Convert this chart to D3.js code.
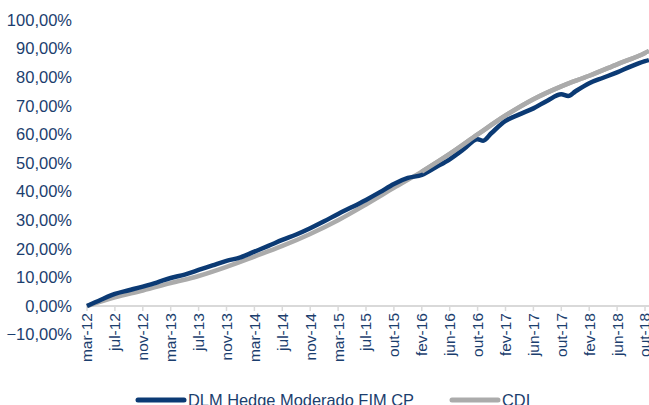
<!DOCTYPE html>
<html>
<head>
<meta charset="utf-8">
<script src="https://cdn.jsdelivr.net/npm/d3@7"></script>
<style>
  html,body{margin:0;padding:0;background:#fff;overflow:hidden;}
  svg{display:block;font-family:"Liberation Sans",Arial,sans-serif;}
  .ylab{font-size:16.5px;fill:#1B3E6E;}
  .xlab{font-size:15.5px;fill:#1B3E6E;}
  .leg{font-size:16.4px;fill:#1B3E6E;}
</style>
</head>
<body>
<div id="chart"></div>
<script>
/* Cumulative return: DLM Hedge Moderado FIM CP vs CDI, mar-12 .. out-18 */
var tickLabels=["mar-12","jul-12","nov-12","mar-13","jul-13","nov-13","mar-14","jul-14","nov-14","mar-15",
    "jul-15","out-15","fev-16","jun-16","out-16","fev-17","jun-17","out-17","fev-18","jun-18","out-18"];
var yTicks=[-10,0,10,20,30,40,50,60,70,80,90,100];

// position = index along the tick labels (0 = mar-12), value in %
var fundPos=[0,0.5,1,1.5,2,2.5,3,3.5,4,4.5,5,5.5,6,6.5,7,7.5,8,8.5,9,9.5,10,10.5,11,11.5,12,12.5,13,13.5,
    14,14.2,14.5,15,15.5,16,16.5,17,17.25,17.5,18,18.5,19,19.5,20,20.14];
var fundVal=[0,2.2,4.2,5.5,6.8,8.2,9.8,11.0,12.6,14.2,15.8,17.0,19.0,21.0,23.1,25.0,27.2,29.6,32.2,34.6,
    37.1,39.8,42.7,44.8,45.8,48.5,51.3,54.8,58.3,57.8,60.5,64.7,67.0,69.1,71.8,74.0,73.4,75.0,77.9,79.8,
    81.7,83.8,85.6,86.0];
var cdiPos=[0,1,2,3,4,5,6,7,8,9,10,11,12,13,14,15,16,17,18,19,20,20.14];
var cdiVal=[0,3.0,5.4,8.0,10.5,13.7,17.3,21.0,25.2,30.0,35.5,41.3,47.0,53.2,60.0,66.6,72.3,76.8,80.5,84.5,88.5,89.2];

var seriesNames=["DLM Hedge Moderado FIM CP","CDI"];
var seriesColors=["#0B3A74","#ABABAB"];

var W=649,H=405;
var svg=d3.select("#chart").append("svg").attr("width",W).attr("height",H);

var x=d3.scaleLinear().domain([0,20]).range([87,645]);
var y=d3.scaleLinear().domain([0,100]).range([306,20]);

// y labels
svg.append("g").selectAll("text").data(yTicks).enter().append("text").attr("class","ylab")
    .attr("x",72).attr("y",function(d){return y(d);}).attr("dy","0.35em").attr("text-anchor","end")
    .text(function(d){return d3.format(".2f")(d).replace(".",",")+"%";});

// x axis at 0%
var xa=svg.append("g").attr("transform","translate(0,"+y(0)+")");
xa.append("line").attr("x1",x(0)-1).attr("x2",W).attr("stroke","#D9D9D9").attr("stroke-width",2);
xa.selectAll("line.tk").data(d3.range(tickLabels.length)).enter().append("line").attr("class","tk")
    .attr("x1",function(d){return x(d);}).attr("x2",function(d){return x(d);})
    .attr("y1",0).attr("y2",5).attr("stroke","#D9D9D9").attr("stroke-width",1.5);
xa.selectAll("text").data(tickLabels).enter().append("text").attr("class","xlab")
    .attr("transform",function(d,i){return "translate("+x(i)+",7) rotate(-90)";})
    .attr("dy","0.35em").attr("text-anchor","end").text(function(d){return d;});

var line=d3.line().x(function(d){return x(d[0]);}).y(function(d){return y(d[1]);}).curve(d3.curveMonotoneX);
var cdi=d3.zip(cdiPos,cdiVal), fund=d3.zip(fundPos,fundVal);

svg.append("path").datum(cdi).attr("d",line).attr("fill","none")
    .attr("stroke",seriesColors[1]).attr("stroke-width",4.5);
svg.append("path").datum(fund).attr("d",line).attr("fill","none")
    .attr("stroke",seriesColors[0]).attr("stroke-width",4.5).attr("stroke-linejoin","round");
// CDI visible on top where it crosses above
svg.append("path").datum(cdi.filter(function(d){return d[0]>=11.5;})).attr("d",line).attr("fill","none")
    .attr("stroke",seriesColors[1]).attr("stroke-width",4.5);

// legend
var legX=[138,452];
var leg=svg.append("g");
seriesNames.forEach(function(n,i){
    leg.append("line").attr("x1",legX[i]).attr("x2",legX[i]+46).attr("y1",400).attr("y2",400)
        .attr("stroke",seriesColors[i]).attr("stroke-width",5).attr("stroke-linecap","round");
    leg.append("text").attr("class","leg").attr("x",legX[i]+50).attr("y",406).text(n);
});
</script>
</body>
</html>
